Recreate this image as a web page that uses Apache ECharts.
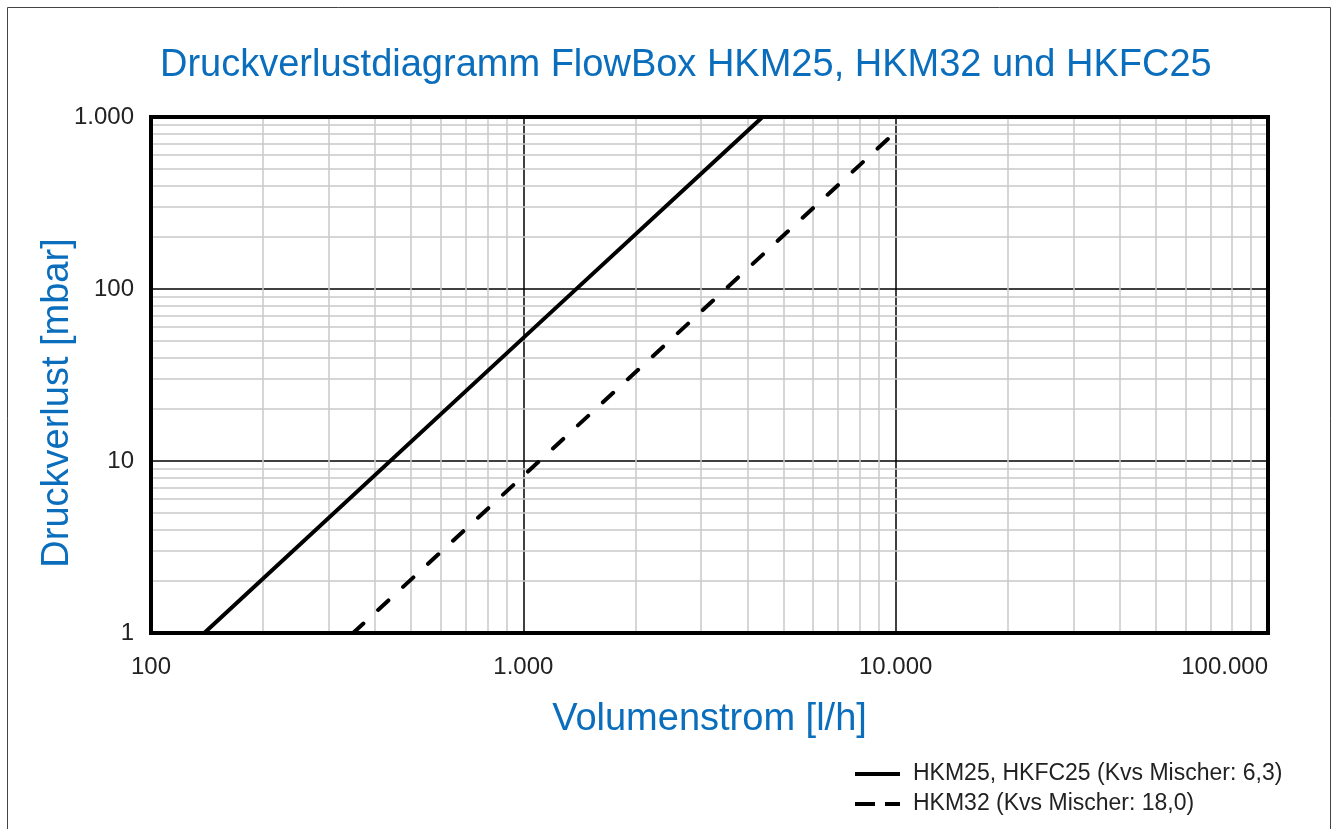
<!DOCTYPE html>
<html>
<head>
<meta charset="utf-8">
<script src="https://cdn.jsdelivr.net/npm/echarts@6/dist/echarts.min.js"></script>
<style>
  html, body { margin: 0; padding: 0; background: #fff; }
  #chart { width: 1338px; height: 829px; }
</style>
</head>
<body>
<div id="chart"></div>
<script>
// values (flow in l/h, pressure loss in mbar)
const flowHKM25 = [139, 1000, 4390];
const dpHKM25 = [1, 52, 1000];
const flowHKM32 = [349, 1000, 10000];
const dpHKM32 = [1, 8.2, 820];

// minor grid lines (2..9 of every decade)
const xMinorGrid = [200, 300, 400, 500, 600, 700, 800, 900,
  2000, 3000, 4000, 5000, 6000, 7000, 8000, 9000,
  20000, 30000, 40000, 50000, 60000, 70000, 80000, 90000];
const yMinorGrid = [2, 3, 4, 5, 6, 7, 8, 9,
  20, 30, 40, 50, 60, 70, 80, 90,
  200, 300, 400, 500, 600, 700, 800, 900];

const BLUE = '#0a6ebd';
const FONT = '"Liberation Sans", Arial, Helvetica, sans-serif';

function formatDe(v) {
  return String(Math.round(v)).replace(/\B(?=(\d{3})+(?!\d))/g, '.');
}

const myChart = echarts.init(document.getElementById('chart'));

const minorLines = [];
xMinorGrid.forEach((v) => minorLines.push({ xAxis: v }));
yMinorGrid.forEach((v) => minorLines.push({ yAxis: v }));

const option = {
  animation: false,
  backgroundColor: '#fff',
  textStyle: { fontFamily: FONT },
  graphic: [
    {
      type: 'rect',
      silent: true,
      shape: { x: 7.5, y: 7.5, width: 1323, height: 900 },
      style: { fill: 'none', stroke: '#444', lineWidth: 1 },
    },
  ],
  title: {
    text: 'Druckverlustdiagramm FlowBox HKM25, HKM32 und HKFC25',
    left: 155,
    top: 42,
    textStyle: {
      color: BLUE,
      fontSize: 38,
      fontWeight: 'normal',
      fontFamily: FONT,
    },
  },
  legend: {
    orient: 'vertical',
    left: 848,
    top: 756,
    itemWidth: 45,
    itemHeight: 14,
    itemGap: 4,
    itemStyle: { opacity: 0 },
    lineStyle: { width: 4 },
    textStyle: {
      fontSize: 23,
      color: '#222',
      lineHeight: 26,
      padding: [0, 0, 0, 8],
    },
    data: [
      { name: 'HKM25, HKFC25 (Kvs Mischer: 6,3)' },
      { name: 'HKM32 (Kvs Mischer: 18,0)', lineStyle: { type: [20, 10], cap: 'butt' } },
    ],
  },
  grid: {
    left: 151,
    right: 70,
    top: 117,
    bottom: 196,
    show: true,
    z: 10,
    backgroundColor: 'transparent',
    borderColor: '#000',
    borderWidth: 4,
  },
  xAxis: {
    type: 'log',
    logBase: 10,
    min: 100,
    max: 100000,
    name: 'Volumenstrom [l/h]',
    nameLocation: 'middle',
    nameGap: 68,
    nameMoveOverlap: false,
    nameTextStyle: { color: BLUE, fontSize: 38, fontFamily: FONT },
    axisLine: { show: false },
    axisTick: { show: false },
    axisLabel: {
      margin: 22,
      fontSize: 24,
      color: '#222',
      alignMaxLabel: 'right',
      formatter: formatDe,
    },
    splitLine: { show: true, lineStyle: { color: '#000', width: 1.5 } },
  },
  yAxis: {
    type: 'log',
    logBase: 10,
    min: 1,
    max: 1000,
    name: 'Druckverlust [mbar]',
    nameLocation: 'middle',
    nameGap: 74,
    nameMoveOverlap: false,
    nameTextStyle: {
      color: BLUE,
      fontSize: 38,
      fontFamily: FONT,
      padding: [0, 56, 0, 0],
    },
    axisLine: { show: false },
    axisTick: { show: false },
    axisLabel: {
      margin: 17,
      fontSize: 24,
      color: '#222',
      formatter: formatDe,
    },
    splitLine: { show: true, lineStyle: { color: '#000', width: 1.5 } },
  },
  series: [
    {
      name: 'minor grid',
      type: 'line',
      data: [],
      silent: true,
      z: 1,
      markLine: {
        z: 1,
        silent: true,
        symbol: 'none',
        label: { show: false },
        lineStyle: { color: '#c8c8c8', width: 1.5, type: 'solid' },
        data: minorLines,
      },
    },
    {
      name: 'HKM25, HKFC25 (Kvs Mischer: 6,3)',
      type: 'line',
      z: 3,
      symbol: 'none',
      data: flowHKM25.map((x, i) => [x, dpHKM25[i]]),
      itemStyle: { color: '#000' },
      lineStyle: { color: '#000', width: 4 },
    },
    {
      name: 'HKM32 (Kvs Mischer: 18,0)',
      type: 'line',
      z: 3,
      symbol: 'none',
      data: flowHKM32.map((x, i) => [x, dpHKM32[i]]),
      itemStyle: { color: '#000' },
      lineStyle: { color: '#000', width: 4, type: [14, 20], cap: 'round' },
    },
  ],
};

myChart.setOption(option);
window.addEventListener('resize', () => myChart.resize());
</script>
</body>
</html>
